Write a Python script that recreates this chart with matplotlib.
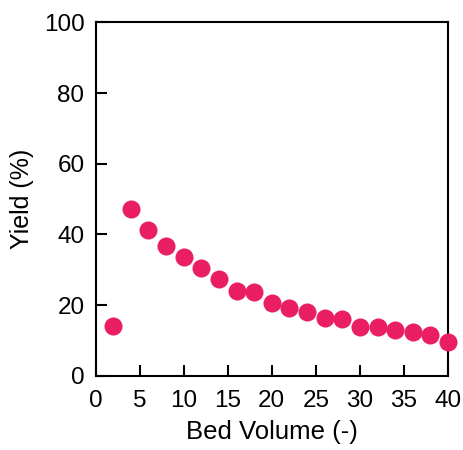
import matplotlib
matplotlib.use('Agg')
import matplotlib.pyplot as plt

# Bed volume vs yield
bed_volume = [2, 4, 6, 8, 10, 12, 14, 16, 18, 20, 22, 24, 26, 28, 30, 32, 34, 36, 38, 40]
yield_pct = [14.1, 47.3, 41.2, 36.7, 33.7, 30.4, 27.3, 24.0, 23.8, 20.5,
             19.2, 18.1, 16.4, 16.0, 13.9, 13.7, 12.9, 12.3, 11.5, 9.6]

x_ticks = [0, 5, 10, 15, 20, 25, 30, 35, 40]
y_ticks = [0, 20, 40, 60, 80, 100]

plt.rcParams['font.family'] = ['Liberation Sans', 'DejaVu Sans']

fig = plt.figure(figsize=(4.64, 4.5), dpi=100)
ax = fig.add_axes([0.206, 0.165, 0.7595, 0.785])

ax.plot(bed_volume, yield_pct, 'o', color='#E91E63', markersize=13,
        markeredgewidth=0, clip_on=False, zorder=3)

ax.set_xlim(0, 40)
ax.set_ylim(0, 100)
ax.set_xticks(x_ticks)
ax.set_yticks(y_ticks)
ax.tick_params(axis='both', direction='in', length=8, width=1.5, labelsize=17.5,
               top=False, right=False)
ax.tick_params(axis='x', pad=10)
ax.tick_params(axis='y', pad=8)
for s in ax.spines.values():
    s.set_linewidth(1.5)

ax.set_xlabel('Bed Volume (-)', fontsize=18.5, labelpad=6)
ax.set_ylabel('Yield (%)', fontsize=18, labelpad=7)

fig.savefig('out.png', dpi=100)
